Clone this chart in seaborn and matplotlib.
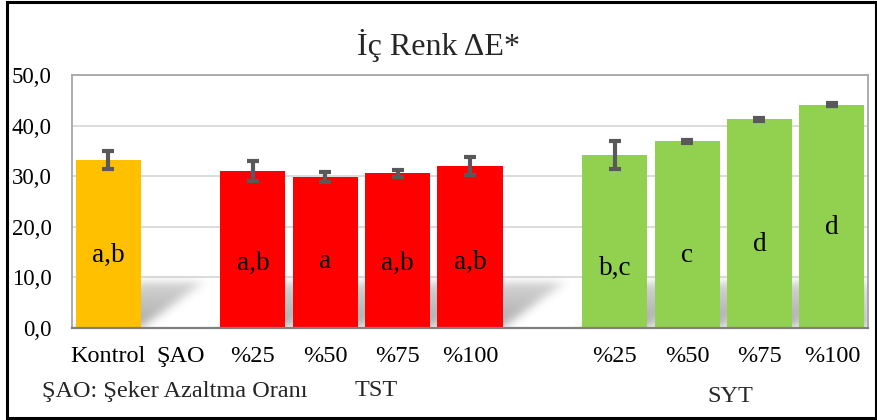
import numpy as np
import pandas as pd
import matplotlib
matplotlib.use("Agg")
import matplotlib.pyplot as plt
from matplotlib.patches import Rectangle
from matplotlib.ticker import FixedLocator, FuncFormatter
import seaborn as sns

# ---- data -------------------------------------------------------------
treatments = ["Kontrol", "TST %25", "TST %50", "TST %75", "TST %100",
              "SYT %25", "SYT %50", "SYT %75", "SYT %100"]
groups = ["Kontrol", "TST", "TST", "TST", "TST", "SYT", "SYT", "SYT", "SYT"]
means = [33.2, 31.0, 29.9, 30.6, 32.0, 34.2, 36.9, 41.3, 44.1]
errors = [1.75, 2.0, 0.95, 0.7, 1.7, 2.8, 0.3, 0.3, 0.3]
letters = ["a,b", "a,b", "a", "a,b", "a,b", "b,c", "c", "d", "d"]
letter_heights = [14.4, 12.8, 13.1, 12.8, 12.9, 11.8, 14.4, 16.6, 19.9]

# slots on the category axis (ŞAO column and a spacer are left empty)
axis_order = ["Kontrol", "ŞAO", "TST %25", "TST %50", "TST %75", "TST %100",
              "_gap", "SYT %25", "SYT %50", "SYT %75", "SYT %100"]
tick_labels = ["Kontrol", "ŞAO", "%25", "%50", "%75", "%100",
               "", "%25", "%50", "%75", "%100"]
y_ticks = [0, 10, 20, 30, 40, 50]

palette = {"Kontrol": "#FFC000", "TST": "#FF0000", "SYT": "#92D050"}

# ---- style ------------------------------------------------------------
sns.set_style("white")
plt.rcParams["font.family"] = ["Liberation Serif", "DejaVu Serif"]

W, H = 877, 420
fig = plt.figure(figsize=(W / 100, H / 100), dpi=100)
ax = fig.add_axes([72 / W, 1 - 328 / H, (868 - 72) / W, (328 - 75) / H])

df = pd.DataFrame({"treatment": treatments, "group": groups, "mean": means})

sns.barplot(data=df, x="treatment", y="mean", hue="group", order=axis_order,
            hue_order=["Kontrol", "TST", "SYT"], palette=palette,
            dodge=False, width=0.9, saturation=1, errorbar=None,
            legend=False, ax=ax, zorder=2, linewidth=0)

pos = [axis_order.index(t) for t in treatments]

# error bars
ax.errorbar(pos, means, yerr=errors, fmt="none", ecolor="#595959",
            elinewidth=3.0, capsize=4.3, capthick=3.0, zorder=3)

# significance letters inside the bars
for x, yl, s in zip(pos, letter_heights, letters):
    ax.text(x, yl, s, ha="center", va="center", fontsize=19.5, color="black",
            zorder=4)

# soft slanted floor shadow behind the bars
x_lo, x_hi, y_lo, y_hi = -0.5, len(axis_order) - 0.5, 0.0, 15.0
nx, ny = 880, 76
xs = np.linspace(x_lo, x_hi, nx)
ys = np.linspace(y_lo, y_hi, ny)
XX, YY = np.meshgrid(xs, ys)
sh_h, sh_d = 9.0, 0.85
mask = np.zeros_like(XX)
for x in pos:
    shift = sh_d * YY / sh_h
    inside = ((YY <= sh_h) & (XX >= x - 0.45 + shift) & (XX <= x + 0.45 + shift))
    mask = np.maximum(mask, inside * (1.0 - 0.5 * YY / sh_h))


def blur(a, sigma, axis):
    r = int(3 * sigma)
    k = np.exp(-np.arange(-r, r + 1) ** 2 / (2 * sigma ** 2))
    k /= k.sum()
    return np.apply_along_axis(lambda v: np.convolve(v, k, mode="same"), axis, a)


mask = blur(blur(mask, 6.0, 1), 4.0, 0)
rgba = np.zeros((ny, nx, 4))
rgba[..., :3] = 0.25
rgba[..., 3] = 0.45 * mask
ax.imshow(rgba, extent=(x_lo, x_hi, y_lo, y_hi), origin="lower",
          aspect="auto", interpolation="bilinear", zorder=1)

# axes formatting
ax.set_xlim(x_lo, x_hi)
ax.set_ylim(0, 50)
ax.yaxis.set_major_locator(FixedLocator(y_ticks))
ax.yaxis.set_major_formatter(FuncFormatter(lambda v, p: f"{v:.1f}".replace(".", ",")))
ax.set_xticks(range(len(axis_order)))
ax.set_xticklabels(tick_labels)
ax.tick_params(axis="both", length=0, colors="black")
ax.tick_params(axis="x", pad=13, labelsize=17.5)
ax.tick_params(axis="y", pad=14.5, labelsize=16.5)
ax.set_xlabel("")
ax.set_ylabel("")
ax.grid(axis="y", color="#d9d9d9", linewidth=1.3, zorder=0)
ax.set_axisbelow(True)
for side in ["left", "top", "right"]:
    ax.spines[side].set_color("#a6a6a6")
    ax.spines[side].set_linewidth(1.3)
ax.spines["bottom"].set_color("#7f7f7f")
ax.spines["bottom"].set_linewidth(1.6)
ax.spines["bottom"].set_zorder(5)

# title and footer texts
fig.text(0.5, 1 - 45 / H, "İç Renk ΔE*", ha="center", va="center", fontsize=23)
fig.text(42 / W, 1 - 392 / H, "ŞAO: Şeker Azaltma Oranı", ha="left",
         va="center", fontsize=17.5)
fig.text(376 / W, 1 - 391 / H, "TST", ha="center", va="center", fontsize=17.5)
fig.text(730 / W, 1 - 397 / H, "SYT", ha="center", va="center", fontsize=17.5)

# outer frame
fig.patches.append(Rectangle((6.5 / W, 2.0 / H), (875.5 - 6.5) / W,
                             (418.0 - 2.0) / H, transform=fig.transFigure,
                             fill=False, edgecolor="black", linewidth=2.2))

fig.savefig("out.png", dpi=100)
